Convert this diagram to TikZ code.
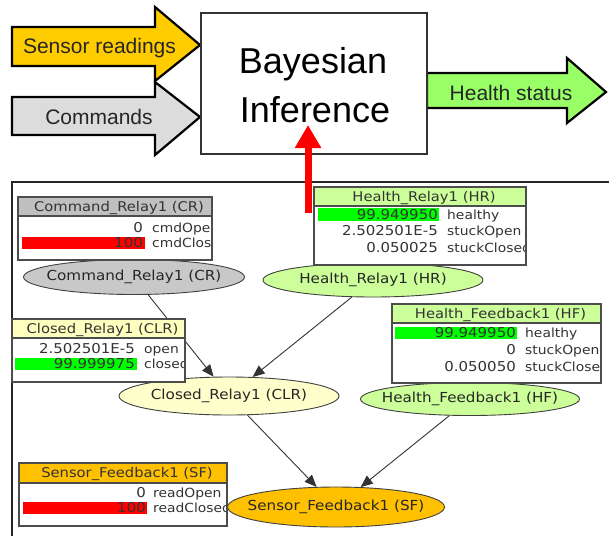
\documentclass[tikz,border=0pt]{standalone}
\usepackage{fontspec}
\setmainfont{Liberation Sans}
\newfontfamily\netfont[FakeStretch=1.1]{DejaVu Sans}
\usetikzlibrary{shapes.geometric,arrows.meta}
\definecolor{sensorfill}{HTML}{FFCC00}
\definecolor{cmdfill}{HTML}{DCDCDC}
\definecolor{healthfill}{HTML}{99FF66}
\definecolor{crgray}{HTML}{C8C8C8}
\definecolor{crtitle}{HTML}{C0C0C0}
\definecolor{hgreen}{HTML}{CCFF99}
\definecolor{clryellow}{HTML}{FFFFCC}
\definecolor{clrtitle}{HTML}{FFFFC0}
\definecolor{sforange}{HTML}{FFC000}
\definecolor{barred}{HTML}{FF0000}
\definecolor{bargreen}{HTML}{00FF00}
\tikzset{
  bigarrow/.style={draw=black, line width=2.2pt, line join=miter},
  bigtext/.style={font=\fontsize{21}{24}\selectfont, anchor=base, inner sep=0pt, text=black!85},
  infertext/.style={font=\fontsize{36}{40}\selectfont, anchor=base, inner sep=0pt},
  netnode/.style={ellipse, draw=black!75, line width=0.9pt, inner sep=0pt,
    font=\netfont\fontsize{13.8}{16}\selectfont, text=black!85},
  netedge/.style={draw=black!80, line width=0.9pt, -{Triangle[length=12pt,width=10pt]}},
  boxline/.style={draw=black!70, line width=1.3pt},
  rowtext/.style={font=\netfont\fontsize{13.6}{16}\selectfont, inner sep=0pt, text=black!80},
  labtext/.style={font=\netfont\fontsize{12.6}{16}\selectfont, inner sep=0pt, text=black!80},
  titletext/.style={font=\netfont\fontsize{13.4}{16}\selectfont, inner sep=0pt, anchor=base, text=black!80}
}
% #1 name, #2 x1, #3 y1, #4 x2, #5 title bottom, #6 y2, #7 title colour, #8 title
\newcommand\netboxbg[8]{%
  \fill[white] (#2,#3) rectangle (#4,#6);
  \fill[#7] (#2,#3) rectangle (#4,#5);
  \draw[boxline] (#2,#5) -- (#4,#5);
  \node[titletext] (#1-title) at ({(#2+#4)/2+4},{(#3+#5)/2+4.8}) {#8};
}
% #1 name, #2 y, #3 numx, #4 labx, #5 value, #6 label
\newcommand\netrow[6]{%
  \node[rowtext, anchor=base east] (#1-v) at (#3,#2+4.9) {#5};
  \node[labtext, anchor=base west] (#1-l) at (#4,#2+4.9) {#6};
}
\begin{document}
\begin{tikzpicture}[x=1pt,y=-1pt]
\useasboundingbox (0,0) rectangle (609,536);

% ---- top block diagram ----
\draw[bigarrow, fill=sensorfill] (12,27) -- (155,27) -- (155,7) -- (200,45) -- (155,81) -- (155,66) -- (12,66) -- cycle;
\draw[bigarrow, fill=cmdfill] (12,97) -- (155,97) -- (155,82) -- (200,117) -- (155,155) -- (155,135) -- (12,135) -- cycle;
\draw[bigarrow, fill=healthfill] (427,73) -- (567,73) -- (567,58) -- (606,92) -- (567,123) -- (567,108) -- (427,108) -- cycle;
\node[bigtext] (sensortxt) at (99.5,53) {Sensor readings};
\node[bigtext] (cmdtxt) at (99,124.5) {Commands};
\node[bigtext] (healthtxt) at (511,100) {Health status};

\node[draw=black!80, line width=1.3pt, fill=white, minimum width=226pt, minimum height=141pt, inner sep=0pt] (bayes) at (314,83.5) {};
\node[infertext] (bayes1) at (313,73) {Bayesian};
\node[infertext] (bayes2) at (315,122) {Inference};

% ---- network frame ----
\draw[line width=1.3pt, black!85] (609,182) -- (12,182) -- (12,536);

% ---- network nodes ----
\node[netnode, fill=crgray, minimum width=221pt, minimum height=35pt] (cr) at (134,277) {\makebox[0pt]{Command\_Relay1 (CR)}};
\node[netnode, fill=hgreen, minimum width=220pt, minimum height=34pt] (hr) at (373,280) {\makebox[0pt]{Health\_Relay1 (HR)}};
\node[netnode, fill=clryellow, minimum width=220pt, minimum height=38pt] (clr) at (229,396) {\makebox[0pt]{Closed\_Relay1 (CLR)}};
\node[netnode, fill=hgreen, minimum width=219pt, minimum height=33pt] (hf) at (470,399) {\makebox[0pt]{Health\_Feedback1 (HF)}};
\node[netnode, fill=sforange, minimum width=217pt, minimum height=40pt] (sf) at (336,507) {\makebox[0pt]{Sensor\_Feedback1 (SF)}};

\draw[netedge] (cr) -- (clr);
\draw[netedge] (hr) -- (clr);
\draw[netedge] (clr) -- (sf);
\draw[netedge] (hf) -- (sf);

% ---- monitor boxes ----
% CR
\netboxbg{crbox}{18}{197}{212}{216}{260}{crtitle}{Command\_Relay1 (CR)}
\begin{scope}
\clip (18,216) rectangle (212,260);
\fill[barred] (22,237) rectangle (145,249);
\netrow{cr1}{228}{143}{152}{0}{cmdOpen}
\netrow{cr2}{243}{143}{152}{100}{cmdClosed}
\end{scope}
\draw[boxline] (18,197) rectangle (212,260);

% HR
\netboxbg{hrbox}{314}{187}{526}{206}{265}{hgreen}{Health\_Relay1 (HR)}
\begin{scope}
\clip (314,206) rectangle (526,265);
\fill[bargreen] (318,208) rectangle (439,221);
\netrow{hr1}{215}{438}{447}{99.949950}{healthy}
\netrow{hr2}{231}{438}{447}{2.502501E-5}{stuckOpen}
\netrow{hr3}{248}{438}{447}{0.050025}{stuckClosed}
\end{scope}
\draw[boxline] (314,187) rectangle (526,265);

% CLR
\netboxbg{clrbox}{12}{319}{185}{338}{382}{clrtitle}{Closed\_Relay1 (CLR)}
\begin{scope}
\clip (12,338) rectangle (185,382);
\fill[bargreen] (15,358) rectangle (137,370);
\netrow{clr1}{349}{135}{144}{2.502501E-5}{open}
\netrow{clr2}{364}{135}{144}{99.999975}{closed}
\end{scope}
\draw[boxline] (12,319) rectangle (185,382);

% HF
\netboxbg{hfbox}{392}{304}{601}{323}{383}{hgreen}{Health\_Feedback1 (HF)}
\begin{scope}
\clip (392,323) rectangle (601,383);
\fill[bargreen] (395,327) rectangle (517,339);
\netrow{hf1}{333}{516}{525}{99.949950}{healthy}
\netrow{hf2}{350}{516}{525}{0}{stuckOpen}
\netrow{hf3}{367}{516}{525}{0.050050}{stuckClosed}
\end{scope}
\draw[boxline] (392,304) rectangle (601,383);

% SF
\netboxbg{sfbox}{19}{463}{227}{483}{526}{sforange}{Sensor\_Feedback1 (SF)}
\begin{scope}
\clip (19,483) rectangle (227,526);
\fill[barred] (23,502) rectangle (147,514);
\netrow{sf1}{493}{146}{153}{0}{readOpen}
\netrow{sf2}{508}{146}{153}{100}{readClosed}
\end{scope}
\draw[boxline] (19,463) rectangle (227,526);

% ---- red evidence arrow ----
\coordinate (redtail) at (308,213);
\coordinate (redtip) at (308,125);
\draw[barred, line width=7pt, -{Triangle[length=23pt,width=25pt]}] (redtail) -- (redtip);
\end{tikzpicture}
\end{document}
